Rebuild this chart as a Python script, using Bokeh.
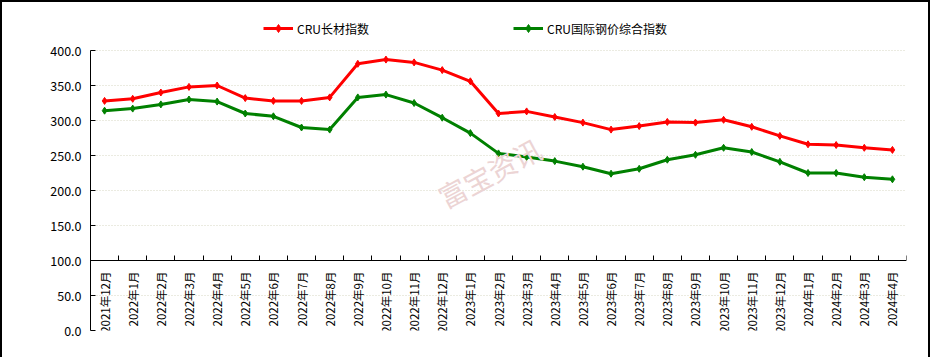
import math
from bokeh.plotting import figure
from bokeh.models import (Range1d, FixedTicker, NumeralTickFormatter, Legend,
                          LegendItem, Label, ColumnDataSource, InlineStyleSheet)
from bokeh.embed import file_html
from bokeh.resources import INLINE

months = ["2021年12月", "2022年1月", "2022年2月", "2022年3月", "2022年4月", "2022年5月",
          "2022年6月", "2022年7月", "2022年8月", "2022年9月", "2022年10月", "2022年11月",
          "2022年12月", "2023年1月", "2023年2月", "2023年3月", "2023年4月", "2023年5月",
          "2023年6月", "2023年7月", "2023年8月", "2023年9月", "2023年10月", "2023年11月",
          "2023年12月", "2024年1月", "2024年2月", "2024年3月", "2024年4月"]
long_index = [328, 331, 340, 348, 350, 332, 328, 328, 333, 381, 387, 383, 372, 356,
              310, 313, 305, 297, 287, 292, 298, 297, 301, 291, 278, 266, 265, 261, 258]
steel_index = [314, 317, 323, 330, 327, 310, 306, 290, 287, 333, 337, 325, 304, 282,
               253, 248, 242, 234, 224, 231, 244, 251, 261, 255, 241, 225, 225, 219, 216]
series_names = ["CRU长材指数", "CRU国际钢价综合指数"]
y_ticks = [0, 50, 100, 150, 200, 250, 300, 350, 400]
watermark = "富宝资讯"

FONT = "Noto Sans CJK SC"
n = len(months)
xs = list(range(n))
src = ColumnDataSource(dict(x=xs, long=long_index, steel=steel_index))

# frame spans the full height so the legend can sit inside it above the 400 line
W, H, TOP, BOTTOM = 930, 357, 4, 29
frame_h = H - TOP - BOTTOM
y_max = 400 * frame_h / 280.0

border_css = InlineStyleSheet(css=":host { border-top: 2px solid black; "
                                  "border-left: 2px solid black; border-right: 2px solid black; }")

p = figure(width=W, height=H, x_range=Range1d(-0.5, n - 0.5), y_range=Range1d(0, y_max),
           output_backend="svg", toolbar_location=None, stylesheets=[border_css],
           min_border_left=88, min_border_right=26, min_border_top=TOP, min_border_bottom=BOTTOM)
p.outline_line_color = None
p.background_fill_color = "white"
p.border_fill_color = "white"

# y axis
p.yaxis.ticker = FixedTicker(ticks=y_ticks)
p.yaxis.bounds = (0, 400)
p.yaxis.formatter = NumeralTickFormatter(format="0.0")
p.yaxis.major_tick_in = 5
p.yaxis.major_tick_out = 0
p.yaxis.minor_tick_line_color = None
p.yaxis.axis_line_color = "black"
p.yaxis.major_tick_line_color = "black"
p.yaxis.major_label_text_font = FONT
p.yaxis.major_label_text_font_size = "12.5px"
p.yaxis.major_label_text_color = "black"
p.yaxis.major_label_standoff = 9

# x axis crossing at y=100
p.xaxis.fixed_location = 100
p.xaxis.ticker = FixedTicker(ticks=xs, minor_ticks=[i - 0.5 for i in range(n + 1)])
p.xaxis.major_label_overrides = {i: m for i, m in enumerate(months)}
p.xaxis.major_label_orientation = math.pi / 2
p.xaxis.major_tick_in = 0
p.xaxis.major_tick_out = 0
p.xaxis.minor_tick_in = 5
p.xaxis.minor_tick_out = 0
p.xaxis.minor_tick_line_color = "black"
p.xaxis.axis_line_color = "black"
p.xaxis.major_label_text_font = FONT
p.xaxis.major_label_text_font_size = "11.5px"
p.xaxis.major_label_text_color = "black"
p.xaxis.major_label_standoff = 11

p.xgrid.visible = False
p.ygrid.ticker = FixedTicker(ticks=y_ticks)
p.ygrid.grid_line_color = "#d6d6c2"
p.ygrid.grid_line_dash = "1 2"
p.ygrid.grid_line_width = 1

# watermark
p.add_layout(Label(x=399, y=158, x_units="screen", y_units="screen", text=watermark,
                   angle=0.49, text_align="center", text_baseline="middle",
                   text_font=FONT, text_font_size="28px", text_color="#ecd4d4"))

r1 = p.line("x", "long", source=src, line_color="#ff0000", line_width=3)
s1 = p.scatter("x", "long", source=src, marker="diamond", size=7, color="#ff0000")
r2 = p.line("x", "steel", source=src, line_color="#008000", line_width=3)
s2 = p.scatter("x", "steel", source=src, marker="diamond", size=7, color="#008000")

legend = Legend(items=[LegendItem(label=series_names[0], renderers=[r1, s1]),
                       LegendItem(label=series_names[1], renderers=[r2, s2])],
                orientation="horizontal", location=(173, 292), padding=0, margin=0,
                spacing=31, glyph_width=30, label_standoff=4, label_width=185,
                border_line_color=None, background_fill_alpha=0,
                label_text_font=FONT, label_text_font_size="12px",
                label_text_color="black")
p.add_layout(legend)

open("out.html", "w").write(file_html(p, INLINE))
